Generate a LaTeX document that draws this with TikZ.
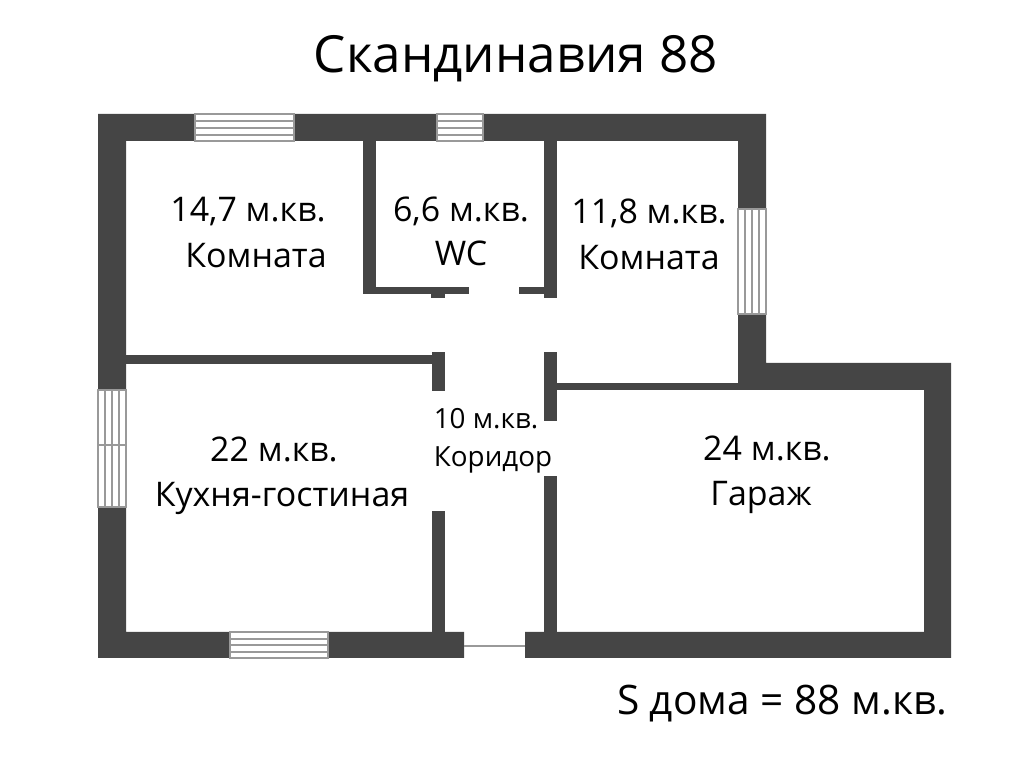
\documentclass[tikz,border=0pt]{standalone}
\usepackage{fontspec}
\setmainfont{Open Sans}
\definecolor{wallgray}{HTML}{454545}
\definecolor{framegray}{HTML}{999999}
\tikzset{
  wall/.style={fill=wallgray},
  frameline/.style={draw=framegray,line width=.4pt},
  room/.style={anchor=base,inner sep=0pt,font=\fontsize{9.65}{11}\selectfont},
  hall/.style={anchor=base,inner sep=0pt,font=\fontsize{7.9}{9}\selectfont},
  summary/.style={anchor=base,inner sep=0pt,font=\fontsize{11.55}{14}\selectfont},
  title/.style={anchor=base,inner sep=0pt,font=\fontsize{14.55}{17}\selectfont}
}
\begin{document}
\begin{tikzpicture}[x=.01cm,y=-.01cm]
\useasboundingbox (0,0) rectangle (1024,768);
% outer walls
\fill [wall] (98,114) -- (766,114) -- (766,363) -- (951,363) -- (951,658) -- (525,658) -- (525,632) -- (924,632) -- (924,390) -- (738,390) -- (738,141) -- (126,141) -- (126,632) -- (464,632) -- (464,658) -- (98,658) -- cycle;
% inner walls
\fill [wall] (363,141) rectangle (376,294);
\fill [wall] (363,287) rectangle (469,294);
\fill [wall] (431,294) rectangle (445,298);
\fill [wall] (544,141) rectangle (557,298);
\fill [wall] (519,287) rectangle (544,294);
\fill [wall] (126,355) rectangle (432,364);
\fill [wall] (432,352) rectangle (445,391);
\fill [wall] (544,352) rectangle (557,421);
\fill [wall] (557,383) rectangle (738,390);
\fill [wall] (432,511) rectangle (445,632);
\fill [wall] (544,476) rectangle (557,632);
% windows
\foreach \xa/\xb in {195/294,437/483}{
  \fill [white] (\xa,114) rectangle (\xb,141);
  \draw [frameline] (\xa,114) rectangle (\xb,141);
  \foreach \y in {121,128,135} \draw [frameline] (\xa,\y) -- (\xb,\y);
}
\fill [white] (230,632) rectangle (328,658);
\draw [frameline] (230,632) rectangle (328,658);
\foreach \y in {639,645,652} \draw [frameline] (230,\y) -- (328,\y);
\fill [white] (738,209) rectangle (766,314);
\draw [frameline] (738,209) rectangle (766,314);
\foreach \x in {745,752,759} \draw [frameline] (\x,209) -- (\x,314);
\fill [white] (98,390) rectangle (126,507);
\draw [frameline] (98,390) rectangle (126,507);
\foreach \x in {105,112,119} \draw [frameline] (\x,390) -- (\x,507);
\draw [frameline] (98,445) -- (126,445);
% door
\draw [framegray,line width=.5pt] (464,646) -- (525,646);
% labels
\node [title] (name) at (516,73) {Скандинавия 88};
\node [room] (areaa) at (248,222) {14,7 м.кв.};
\node [room] (rooma) at (256,268) {Комната};
\node [room] (areab) at (461,222) {6,6 м.кв.};
\node [room] (roomb) at (461,266) {WC};
\node [room] (areac) at (649,224) {11,8 м.кв.};
\node [room] (roomc) at (649,270) {Комната};
\node [hall] (aread) at (486,429) {10 м.кв.};
\node [hall] (roomd) at (493,467) {Коридор};
\node [room] (areae) at (274,462) {22 м.кв.};
\node [room] (roome) at (282,507) {Кухня-гостиная};
\node [room] (areaf) at (767,461) {24 м.кв.};
\node [room] (roomf) at (761,506) {Гараж};
\node [summary] (total) at (782,715) {S дома = 88 м.кв.};
\end{tikzpicture}
\end{document}
